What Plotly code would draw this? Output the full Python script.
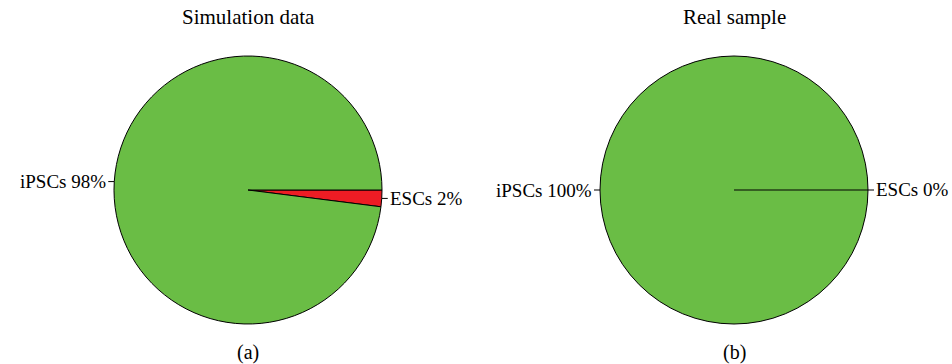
import math
import plotly.graph_objects as go

categories = ["ESCs", "iPSCs"]
sim_values = [2, 98]
real_values = [0, 100]
panel_titles = ["Simulation data", "Real sample"]
panel_tags = ["(a)", "(b)"]

W, H = 952, 364
GREEN = "#6abd45"
RED = "#ed1c24"
FONT = "Liberation Serif"

centers = [(248, 190), (734, 190)]
R = 134
TICK = 6

fig = go.Figure()
shapes = []
annotations = []


def P(px, py):
    return px / W, (H - py) / H


for values, (cx, cy), title, tag in zip([sim_values, real_values], centers, panel_titles, panel_tags):
    fig.add_trace(go.Pie(
        labels=categories, values=values, sort=False, direction="clockwise", rotation=90,
        marker=dict(colors=[RED, GREEN], line=dict(color="black", width=1)),
        textinfo="none", hoverinfo="label+percent", showlegend=False,
        domain=dict(x=[(cx - R) / W, (cx + R) / W], y=[(H - cy - R) / H, (H - cy + R) / H]),
    ))
    total = sum(values)
    cum = 0
    for lab, v in zip(categories, values):
        start = 2 * math.pi * cum / total
        if v == 0:
            # a zero slice shows as a single radius line at its boundary
            x0, y0 = P(cx, cy)
            x1, y1 = P(cx + R * math.cos(start), cy + R * math.sin(start))
            shapes.append(dict(type="line", xref="paper", yref="paper", x0=x0, y0=y0, x1=x1, y1=y1,
                               line=dict(color="black", width=1.2)))
        theta = 2 * math.pi * (cum + v / 2) / total
        cum += v
        ex = cx + R * math.cos(theta)
        ey = cy + R * math.sin(theta)
        sgn = 1 if math.cos(theta) >= 0 else -1
        tx = ex + sgn * TICK
        a0, b0 = P(ex, ey)
        a1, _ = P(tx, ey)
        shapes.append(dict(type="line", xref="paper", yref="paper",
                           x0=a0, x1=a1, y0=b0, y1=b0, line=dict(color="black", width=1)))
        pct = round(100 * v / total)
        lx, ly = P(tx, ey)
        annotations.append(dict(x=lx, y=ly, xref="paper", yref="paper",
                                text=f"{lab} {pct}%", showarrow=False,
                                xanchor="left" if sgn > 0 else "right", yanchor="middle",
                                font=dict(family=FONT, size=19, color="black")))
    tx_, ty_ = P(cx, 17)
    annotations.append(dict(x=tx_, y=ty_, xref="paper", yref="paper", text=title,
                            showarrow=False, xanchor="center", yanchor="middle",
                            font=dict(family=FONT, size=21, color="black")))
    gx, gy = P(cx, 352)
    annotations.append(dict(x=gx, y=gy, xref="paper", yref="paper", text=tag,
                            showarrow=False, xanchor="center", yanchor="middle",
                            font=dict(family=FONT, size=20, color="black")))

fig.update_layout(width=W, height=H, margin=dict(l=0, r=0, t=0, b=0),
                  paper_bgcolor="white", plot_bgcolor="white",
                  shapes=shapes, annotations=annotations)
fig.write_html("out.html", config={"displayModeBar": False},
               post_script="document.body.style.margin='0px';document.body.style.overflow='hidden';")
